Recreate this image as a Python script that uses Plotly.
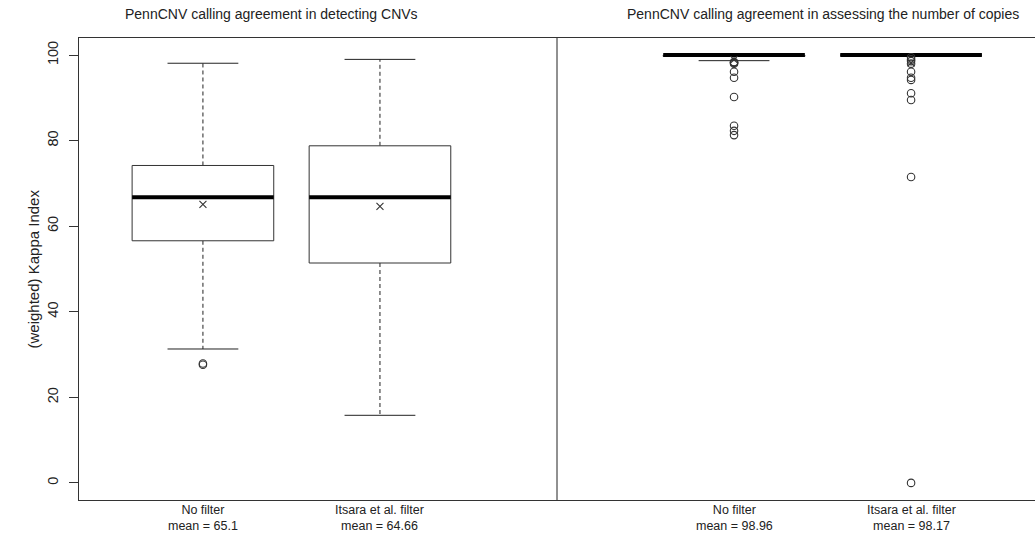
import plotly.graph_objects as go

# Group positions on a shared x axis; position 3 separates the two panels
positions = [1, 2, 4, 5]
group_names = ["No filter", "Itsara et al. filter", "No filter", "Itsara et al. filter"]
means = [65.1, 64.66, 98.96, 98.17]

# Box statistics (lower whisker, Q1, median, Q3, upper whisker)
lower_whisker = [31.3, 15.8, 98.7, 100.0]
q1 = [56.6, 51.4, 99.7, 100.0]
median = [66.8, 66.8, 100.0, 100.0]
q3 = [74.2, 78.8, 100.0, 100.0]
upper_whisker = [98.1, 99.0, 100.0, 100.0]

# Outlying values per group
outliers = [
    [27.9, 27.6],
    [],
    [98.4, 98.3, 98.2, 98.0, 96.1, 94.7, 90.2, 83.5, 82.3, 81.3],
    [99.5, 99.0, 98.6, 98.0, 96.1, 94.7, 94.2, 91.1, 89.5, 71.5, 0.0],
]

panel_titles = [
    "PennCNV calling agreement in detecting CNVs",
    "PennCNV calling agreement in assessing the number of copies",
]
panel_title_x = [1.39, 4.5]
divider_x = 3
y_ticks = [0, 20, 40, 60, 80, 100]

BOX_HALF = 0.4
CAP_HALF = 0.2
LINE = "#222222"
TEXT = "#222222"
FONT = "Liberation Sans, Arial, sans-serif"

fig = go.Figure()

for i, p in enumerate(positions):
    # whiskers (dashed)
    fig.add_trace(go.Scatter(
        x=[p, p, None, p, p], y=[q3[i], upper_whisker[i], None, q1[i], lower_whisker[i]],
        mode="lines", line=dict(color=LINE, width=1, dash="4px,3px"),
        hoverinfo="skip", showlegend=False))
    # whisker caps
    fig.add_trace(go.Scatter(
        x=[p - CAP_HALF, p + CAP_HALF, None, p - CAP_HALF, p + CAP_HALF],
        y=[upper_whisker[i], upper_whisker[i], None, lower_whisker[i], lower_whisker[i]],
        mode="lines", line=dict(color=LINE, width=1),
        hoverinfo="skip", showlegend=False))
    # box
    fig.add_trace(go.Scatter(
        x=[p - BOX_HALF, p + BOX_HALF, p + BOX_HALF, p - BOX_HALF, p - BOX_HALF],
        y=[q1[i], q1[i], q3[i], q3[i], q1[i]],
        mode="lines", fill="toself", fillcolor="white",
        line=dict(color="#333333", width=1),
        hoverinfo="skip", showlegend=False))
    # median
    fig.add_trace(go.Scatter(
        x=[p - BOX_HALF, p + BOX_HALF], y=[median[i], median[i]],
        mode="lines", line=dict(color="black", width=4),
        hoverinfo="skip", showlegend=False))
    # outliers
    if outliers[i]:
        fig.add_trace(go.Scatter(
            x=[p] * len(outliers[i]), y=outliers[i], mode="markers",
            marker=dict(symbol="circle-open", size=7.5, color="#333333",
                        line=dict(width=1.1, color="#333333")),
            showlegend=False))
    # mean
    fig.add_trace(go.Scatter(
        x=[p], y=[means[i]], mode="markers",
        marker=dict(symbol="x-thin-open", size=7, color="#333333",
                    line=dict(width=1.1, color="#333333")),
        showlegend=False))
    # group label with mean
    fig.add_annotation(
        x=p, xref="x", y=0, yref="paper", yanchor="top", yshift=-1,
        text=f"{group_names[i]}<br>mean = {means[i]:g}", showarrow=False,
        font=dict(family=FONT, size=12.5, color=TEXT), align="center")

for t, tx in zip(panel_titles, panel_title_x):
    fig.add_annotation(
        x=tx, xref="x", y=1, yref="paper", yanchor="middle", yshift=24,
        text=t, showarrow=False, font=dict(family=FONT, size=14, color=TEXT))

# y-axis title, placed in paper units to the left of the plot area
fig.add_annotation(
    x=(22 - 79) / 956, xref="paper", y=0.5, yref="paper",
    text="(weighted) Kappa Index", textangle=-90, showarrow=False,
    font=dict(family=FONT, size=15, color=TEXT))

# panel divider
fig.add_shape(type="line", x0=divider_x, x1=divider_x, y0=0, y1=1,
              xref="x", yref="paper", line=dict(color="#222222", width=1))

fig.update_layout(
    width=1035, height=536,
    margin=dict(l=79, r=0, t=38, b=36),
    plot_bgcolor="white", paper_bgcolor="white",
    font=dict(family=FONT, size=12, color=TEXT),
    xaxis=dict(range=[0.3, 5.7], showgrid=False, zeroline=False,
               showticklabels=False, ticks="", showline=True, mirror=True,
               linecolor="#333333", linewidth=1),
    yaxis=dict(range=[-4, 104], showgrid=False, zeroline=False,
               tickvals=y_ticks, ticks="outside", ticklen=9, tickcolor="#333333",
               tickangle=-90, ticklabelstandoff=5,
               showline=True, linecolor="#333333", linewidth=1,
               tickfont=dict(family=FONT, size=14.5, color=TEXT)),
)

fig.write_html("out.html")
